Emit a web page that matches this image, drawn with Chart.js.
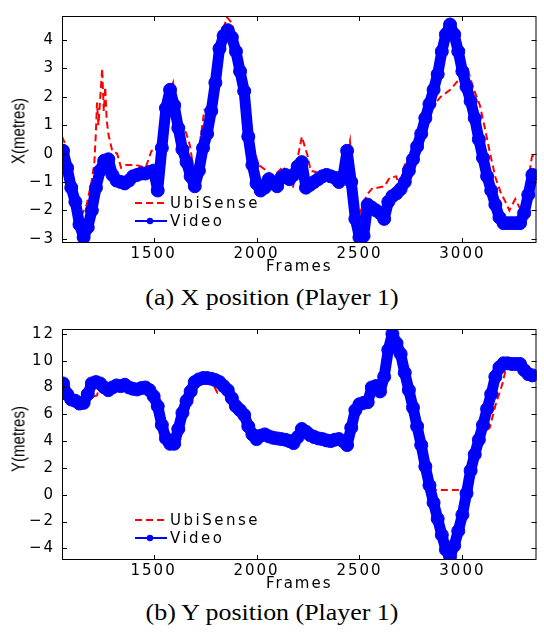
<!DOCTYPE html>
<html>
<head>
<meta charset="utf-8">
<script src="https://cdn.jsdelivr.net/npm/chart.js@4/dist/chart.umd.min.js"></script>
<style>
    body { margin: 0; background: #fff; width: 544px; height: 633px; position: relative; overflow: hidden; }
    .panel { position: absolute; left: 0; }
    .caption { position: absolute; left: 0; width: 544px; text-align: center; font: 24px "Liberation Serif", serif; line-height: 26px; color: #000; transform: scaleX(1.08); }
    .ytitle { position: absolute; width: 100px; height: 20px; line-height: 20px; text-align: center; font: 15px "Liberation Sans", sans-serif; color: #000; transform: rotate(-90deg) scaleY(1.25); }
    .legend { position: absolute; left: 135px; font: 15px "DejaVu Sans", sans-serif; letter-spacing: 2.5px; color: #000; }
    .legend .row { height: 18px; display: flex; align-items: center; }
    .legend svg { margin-right: 3px; }
</style>
</head>
<body>

<div class="panel" style="top:0"><canvas id="chartX" width="544" height="276"></canvas></div>
<div class="ytitle" style="left:-31px; top:121px">X(metres)</div>
<div class="legend" style="top:194px">
    <div class="row"><svg width="32" height="18"><line x1="0" y1="9" x2="32" y2="9" stroke="#ff0000" stroke-width="2" stroke-dasharray="7 4"/></svg><span>UbiSense</span></div>
    <div class="row"><svg width="32" height="18"><line x1="0" y1="9" x2="32" y2="9" stroke="#0000ff" stroke-width="2"/><circle cx="15" cy="9" r="3.2" fill="#0000ff"/></svg><span>Video</span></div>
</div>
<div class="caption" style="top:284px">(a) X position (Player 1)</div>

<div class="panel" style="top:313px"><canvas id="chartY" width="544" height="280"></canvas></div>
<div class="ytitle" style="left:-31px; top:429px">Y(metres)</div>
<div class="legend" style="top:511px">
    <div class="row"><svg width="32" height="18"><line x1="0" y1="9" x2="32" y2="9" stroke="#ff0000" stroke-width="2" stroke-dasharray="7 4"/></svg><span>UbiSense</span></div>
    <div class="row"><svg width="32" height="18"><line x1="0" y1="9" x2="32" y2="9" stroke="#0000ff" stroke-width="2"/><circle cx="15" cy="9" r="3.2" fill="#0000ff"/></svg><span>Video</span></div>
</div>
<div class="caption" style="top:599px">(b) Y position (Player 1)</div>

<script>
// Video frames (shared by both panels)
const videoFrames = [
    1060, 1080, 1100, 1120, 1140, 1160, 1180, 1200, 1220, 1240,
    1260, 1280, 1300, 1320, 1340, 1360, 1380, 1400, 1420, 1440,
    1460, 1480, 1500, 1520, 1540, 1560, 1580, 1600, 1620, 1640,
    1660, 1680, 1700, 1720, 1740, 1760, 1780, 1800, 1820, 1840,
    1860, 1880, 1900, 1920, 1940, 1960, 1980, 2000, 2020, 2040,
    2060, 2080, 2100, 2120, 2140, 2160, 2180, 2200, 2220, 2240,
    2260, 2280, 2300, 2320, 2340, 2360, 2380, 2400, 2420, 2440,
    2460, 2480, 2500, 2520, 2540, 2560, 2580, 2600, 2620, 2640,
    2660, 2680, 2700, 2720, 2740, 2760, 2780, 2800, 2820, 2840,
    2860, 2880, 2900, 2920, 2940, 2960, 2980, 3000, 3020, 3040,
    3060, 3080, 3100, 3120, 3140, 3160, 3180, 3200, 3220, 3240,
    3260, 3280, 3300, 3320, 3340
];

// (a) X position - video track
const videoX = [
    0.1, -0.5, -1.2, -1.7, -2.5, -2.95, -2.6, -2.0, -1.2, -0.6,
    -0.25, -0.2, -0.75, -0.95, -1.0, -1.05, -0.95, -0.8, -0.75, -0.7,
    -0.7, -0.65, -0.6, -1.3, 0.2, 1.6, 2.25, 1.7, 0.9, 0.15,
    -0.3, -0.8, -1.15, -0.6, 0.2, 0.7, 1.5, 2.5, 3.7, 4.15,
    4.35, 4.1, 3.6, 2.9, 2.2, 0.6, -0.4, -1.05, -1.3, -1.2,
    -0.9, -1.05, -1.15, -0.85, -0.75, -0.9, -0.75, -0.45, -0.3, -1.2,
    -1.1, -1.0, -0.9, -0.8, -0.75, -0.8, -0.85, -1.0, -0.8, 0.1,
    -1.0, -2.3, -2.95, -2.9, -1.8, -1.9, -2.0, -2.1, -2.3, -1.7,
    -1.5, -1.4, -1.25, -1.0, -0.6, -0.2, 0.25, 0.7, 1.25, 1.75,
    2.25, 2.8, 3.6, 4.2, 4.55, 4.2, 3.6, 2.9, 2.35, 1.85,
    1.25, 0.5, -0.15, -0.8, -1.3, -1.8, -2.25, -2.45, -2.45, -2.45,
    -2.45, -2.45, -2.1, -1.45, -0.75
];

// (a) X position - UbiSense track
const ubiXFrames = [
    1055, 1079, 1093, 1107, 1131, 1155, 1175, 1198, 1212, 1220,
    1225, 1232, 1250, 1258, 1265, 1272, 1280, 1299, 1323, 1342,
    1366, 1413, 1461, 1490, 1523, 1556, 1571, 1595, 1609, 1633,
    1657, 1676, 1690, 1700, 1728, 1747, 1770, 1795, 1824, 1857,
    1881, 1905, 1939, 1967, 1986, 2010, 2039, 2082, 2130, 2177,
    2201, 2220, 2249, 2263, 2287, 2335, 2383, 2421, 2454, 2469,
    2478, 2502, 2536, 2565, 2588, 2622, 2646, 2679, 2693, 2717,
    2741, 2780, 2860, 2894, 2941, 2970, 3027, 3051, 3085, 3113,
    3133, 3161, 3185, 3209, 3228, 3257, 3281, 3314, 3338, 3360
];
const ubiX = [
    0.6, 0.2, -0.35, -1.0, -1.9, -2.1, -1.8, -1.0, -0.35, 0.8,
    1.8, 1.0, 3.0, 1.5, 2.35, 1.2, 0.7, 0.1, 0.0, -0.5,
    -0.4, -0.4, -0.5, 0.1, 0.15, 1.0, 2.0, 2.5, 1.7, 1.0,
    0.75, 0.3, -0.35, -0.55, 0.55, 1.55, 1.55, 2.3, 4.1, 4.8,
    4.6, 3.6, 2.6, 1.0, 0.2, -0.4, -0.55, -0.8, -0.45, -1.2,
    -0.1, 0.6, -0.1, -0.6, -0.65, -0.75, -0.8, -0.7, 0.45, -1.1,
    -2.1, -2.1, -1.45, -1.2, -1.2, -1.15, -0.85, -0.8, -1.2, -0.45,
    -0.1, 0.5, 1.7, 2.0, 2.25, 2.5, 2.95, 2.35, 1.7, 0.77,
    0.05, -0.85, -1.35, -1.7, -2.0, -1.6, -1.95, -1.2, -0.1, 0.0
];

// (b) Y position - video track
const videoY = [
    8.3, 7.5, 7.1, 7.0, 6.8, 6.85, 7.5, 8.3, 8.4, 8.3,
    8.0, 7.8, 8.0, 8.15, 8.1, 8.2, 8.0, 7.9, 7.85, 7.95,
    8.0, 7.8, 7.35, 6.6, 5.2, 4.2, 3.8, 3.8, 4.9, 6.1,
    7.0, 7.7, 8.4, 8.6, 8.7, 8.7, 8.65, 8.55, 8.4, 8.1,
    7.8, 7.2, 6.6, 6.3, 5.95, 5.1, 4.5, 4.15, 4.4, 4.5,
    4.35, 4.25, 4.2, 4.15, 4.1, 4.0, 3.85, 4.3, 4.9, 4.7,
    4.45, 4.3, 4.2, 4.15, 4.05, 4.0, 4.1, 4.15, 4.0, 3.7,
    5.0, 6.3, 6.75, 6.85, 6.9, 8.0, 8.1, 7.7, 8.8, 10.8,
    12.0, 11.3, 10.5, 9.1, 7.8, 6.5, 5.1, 3.7, 2.1, 0.7,
    -0.6, -1.8, -3.0, -4.1, -4.6, -3.8, -2.7, -1.5, 0.1, 1.8,
    3.0, 4.1, 5.2, 6.4, 7.5, 8.8, 9.5, 9.8, 9.8, 9.75,
    9.75, 9.75, 9.3, 9.0, 8.9
];

// (b) Y position - UbiSense track
const ubiYFrames = [
    1055, 1079, 1107, 1151, 1174, 1203, 1225, 1240, 1275, 1300,
    1356, 1413, 1466, 1499, 1523, 1547, 1571, 1600, 1630, 1645,
    1690, 1705, 1720, 1760, 1790, 1810, 1840, 1860, 1891, 1939,
    1967, 2001, 2039, 2082, 2130, 2182, 2225, 2270, 2300, 2320,
    2368, 2407, 2440, 2455, 2493, 2540, 2564, 2600, 2631, 2660,
    2693, 2731, 2765, 2790, 2827, 2850, 2870, 3004, 3037, 3066,
    3099, 3133, 3161, 3195, 3210, 3240, 3300, 3340, 3360
];
const ubiY = [
    8.4, 7.5, 7.0, 6.9, 7.0, 7.3, 7.4, 8.3, 8.2, 7.9,
    8.1, 7.9, 8.0, 7.4, 6.4, 4.7, 3.9, 3.8, 4.15, 5.5,
    7.2, 8.95, 8.5, 8.6, 8.2, 7.6, 7.9, 7.6, 6.8, 6.0,
    4.8, 4.2, 4.5, 4.2, 4.2, 3.9, 4.9, 4.9, 4.6, 4.2,
    4.0, 4.15, 3.8, 5.2, 6.7, 6.9, 8.1, 7.7, 9.8, 12.0,
    10.8, 8.4, 6.2, 5.2, 3.05, 1.3, 0.35, 0.35, 1.6, 3.3,
    4.6, 5.0, 6.7, 8.3, 9.3, 9.5, 9.5, 9.2, 9.0
];

// Tick labels
const frameTicks = [1500, 2000, 2500, 3000];
const xPosTicks = [-3, -2, -1, 0, 1, 2, 3, 4];
const yPosTicks = [-4, -2, 0, 2, 4, 6, 8, 10, 12];

// Axis ranges
const frameRange = [1055, 3360];
const xRange = [-3.15, 4.85];
const yRange = [-4.87, 12.36];

const tickFont = { family: 'DejaVu Sans', size: 15 };
const minus = v => String(v).replace('-', '\u2212');

// Matlab style box with inward ticks on all four sides
const matlabBox = {
    id: 'matlabBox',
    beforeDraw(chart) {
        chart.ctx.letterSpacing = '2px';
    },
    afterDraw(chart) {
        const { ctx, chartArea: a, scales: { x, y } } = chart;
        ctx.save();
        ctx.strokeStyle = '#000';
        ctx.lineWidth = 1;
        ctx.strokeRect(a.left + 0.5, a.top + 0.5, a.right - a.left - 1, a.bottom - a.top - 1);
        ctx.beginPath();
        x.ticks.forEach(t => {
            const px = Math.round(x.getPixelForValue(t.value)) + 0.5;
            ctx.moveTo(px, a.bottom); ctx.lineTo(px, a.bottom - 5);
            ctx.moveTo(px, a.top); ctx.lineTo(px, a.top + 5);
        });
        y.ticks.forEach(t => {
            const py = Math.round(y.getPixelForValue(t.value)) + 0.5;
            ctx.moveTo(a.left, py); ctx.lineTo(a.left + 5, py);
            ctx.moveTo(a.right, py); ctx.lineTo(a.right - 5, py);
        });
        ctx.stroke();
        ctx.restore();
        ctx.letterSpacing = '0px';
    }
};

function makeChart(id, video, ubiFrames, ubi, range, yTicks, padTop) {
    const ctx = document.getElementById(id).getContext('2d');
    return new Chart(ctx, {
        type: 'line',
        data: {
            datasets: [
                {
                    label: 'UbiSense',
                    data: ubiFrames.map((f, i) => ({ x: f, y: ubi[i] })),
                    borderColor: '#ff0000',
                    borderWidth: 2,
                    borderDash: [7, 4],
                    pointRadius: 0,
                    order: 2
                },
                {
                    label: 'Video',
                    data: videoFrames.map((f, i) => ({ x: f, y: video[i] })),
                    borderColor: '#0000ff',
                    backgroundColor: '#0000ff',
                    borderWidth: 11,
                    borderJoinStyle: 'round',
                    borderCapStyle: 'round',
                    pointRadius: 6.5,
                    pointBorderWidth: 1,
                    pointBackgroundColor: '#0000ff',
                    order: 1
                }
            ]
        },
        options: {
            responsive: false,
            animation: false,
            layout: { padding: { top: padTop, right: 2, left: 0, bottom: 0 } },
            plugins: {
                legend: { display: false },
                tooltip: { enabled: false }
            },
            scales: {
                x: {
                    type: 'linear',
                    min: frameRange[0],
                    max: frameRange[1],
                    afterBuildTicks: s => { s.ticks = frameTicks.map(v => ({ value: v })); },
                    afterFit: s => { s.height = 33; },
                    grid: { display: false, drawTicks: false },
                    border: { display: false },
                    ticks: {
                        padding: 2,
                        maxRotation: 0,
                        autoSkip: false,
                        color: '#000',
                        font: tickFont,
                        callback: v => String(v)
                    },
                    title: { display: true, text: 'Frames', color: '#000', font: tickFont, padding: 0 }
                },
                y: {
                    min: range[0],
                    max: range[1],
                    afterBuildTicks: s => { s.ticks = yTicks.map(v => ({ value: v })); },
                    afterFit: s => { s.width = 62; },
                    grid: { display: false, drawTicks: false },
                    border: { display: false },
                    ticks: {
                        padding: 7,
                        autoSkip: false,
                        color: '#000',
                        font: tickFont,
                        callback: minus
                    }
                }
            }
        },
        plugins: [matlabBox]
    });
}

makeChart('chartX', videoX, ubiXFrames, ubiX, xRange, xPosTicks, 6);
makeChart('chartY', videoY, ubiYFrames, ubiY, yRange, yPosTicks, 10);
</script>
</body>
</html>
